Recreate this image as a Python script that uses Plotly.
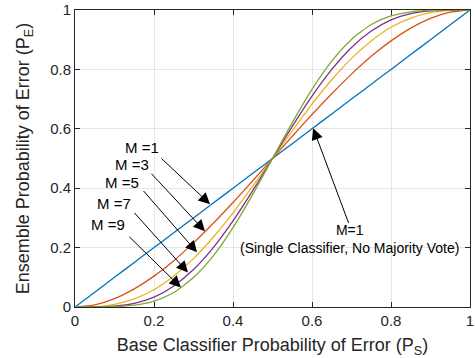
import plotly.graph_objects as go

# Base classifier probability of error (x)
ps = [0.0, 0.05, 0.1, 0.15, 0.2, 0.25, 0.3, 0.35, 0.4, 0.45, 0.5,
      0.55, 0.6, 0.65, 0.7, 0.75, 0.8, 0.85, 0.9, 0.95, 1.0]

pe_m1 = [0.0, 0.05, 0.1, 0.15, 0.2, 0.25, 0.3, 0.35, 0.4, 0.45, 0.5,
         0.55, 0.6, 0.65, 0.7, 0.75, 0.8, 0.85, 0.9, 0.95, 1.0]
pe_m3 = [0.0, 0.007, 0.028, 0.061, 0.104, 0.156, 0.216, 0.282, 0.352, 0.425, 0.5,
         0.575, 0.648, 0.718, 0.784, 0.844, 0.896, 0.939, 0.972, 0.993, 1.0]
pe_m5 = [0.0, 0.001, 0.009, 0.027, 0.058, 0.104, 0.163, 0.235, 0.317, 0.407, 0.5,
         0.593, 0.683, 0.765, 0.837, 0.896, 0.942, 0.973, 0.991, 0.999, 1.0]
pe_m7 = [0.0, 0.0002, 0.003, 0.012, 0.033, 0.071, 0.126, 0.200, 0.290, 0.392, 0.5,
         0.608, 0.710, 0.800, 0.874, 0.929, 0.967, 0.988, 0.997, 0.9998, 1.0]
pe_m9 = [0.0, 0.00003, 0.001, 0.006, 0.020, 0.049, 0.099, 0.172, 0.267, 0.379, 0.5,
         0.621, 0.733, 0.828, 0.901, 0.951, 0.980, 0.994, 0.999, 0.99997, 1.0]

series = [pe_m1, pe_m3, pe_m5, pe_m7, pe_m9]
names = ["M=1", "M=3", "M=5", "M=7", "M=9"]
colors = ["#0072BD", "#D95319", "#EDB120", "#7E2F8E", "#77AC30"]

tick_vals = [0, 0.2, 0.4, 0.6, 0.8, 1]
tick_text = ["0", "0.2", "0.4", "0.6", "0.8", "1"]

# annotation labels
left_labels = ["M =1", "M =3", "M =5", "M =7", "M =9"]
left_text_xy = [(0.170, 0.538), (0.144, 0.480), (0.119, 0.418), (0.098, 0.348), (0.083, 0.279)]
left_tail = [(0.215, 0.505), (0.190, 0.454), (0.170, 0.396), (0.147, 0.322), (0.134, 0.241)]
left_head = [(0.342, 0.346), (0.329, 0.255), (0.309, 0.184), (0.286, 0.116), (0.268, 0.066)]

right_label = "M=1<br>(Single Classifier, No Majority Vote)"
right_text_xy = (0.696, 0.228)
right_tail = (0.694, 0.278)
right_head = (0.603, 0.602)

FONT = "Liberation Sans, Arial, Helvetica, sans-serif"

fig = go.Figure()
for y, n, c in zip(series, names, colors):
    fig.add_trace(go.Scatter(x=ps, y=y, mode="lines", name=n,
                             line=dict(color=c, width=1.3, shape="spline", smoothing=0.6),
                             showlegend=False))

annotations = []
for t, (tx, ty), (ax_, ay_), (hx, hy) in zip(left_labels, left_text_xy, left_tail, left_head):
    annotations.append(dict(x=tx, y=ty, xref="x", yref="y", text=t, showarrow=False,
                            font=dict(size=15, color="#000000", family=FONT)))
    annotations.append(dict(x=hx, y=hy, ax=ax_, ay=ay_, xref="x", yref="y", axref="x", ayref="y",
                            text="", showarrow=True, arrowhead=2, arrowsize=2.3, arrowwidth=1,
                            arrowcolor="#000000", standoff=0, startstandoff=0))

annotations.append(dict(x=right_text_xy[0], y=right_text_xy[1], xref="x", yref="y",
                        text=right_label, showarrow=False,
                        font=dict(size=14, color="#000000", family=FONT)))
annotations.append(dict(x=right_head[0], y=right_head[1], ax=right_tail[0], ay=right_tail[1],
                        xref="x", yref="y", axref="x", ayref="y",
                        text="", showarrow=True, arrowhead=2, arrowsize=2.3, arrowwidth=1,
                        arrowcolor="#000000", standoff=0, startstandoff=0))

axis_common = dict(range=[0, 1], tickvals=tick_vals, ticktext=tick_text,
                   showline=True, linecolor="#262626", linewidth=1, mirror="ticks",
                   ticks="inside", ticklen=5, tickcolor="#262626",
                   showgrid=True, gridcolor="#e6e6e6", gridwidth=1, zeroline=False,
                   automargin=False,
                   tickfont=dict(size=15, color="#262626", family=FONT))

fig.update_layout(
    width=475, height=358,
    margin=dict(l=75, r=5, t=10, b=51),
    paper_bgcolor="white", plot_bgcolor="white",
    font=dict(family=FONT, color="#262626"),
    annotations=annotations,
    xaxis=dict(**axis_common,
               title=dict(text="Base Classifier Probability of Error (P<sub>S</sub>)",
                          font=dict(size=18, color="#262626", family=FONT))),
    yaxis=dict(**axis_common,
               title=dict(text="Ensemble Probability of Error (P<sub>E</sub>)",
                          font=dict(size=18, color="#262626", family=FONT))),
)

fig.write_html("out.html",
               config={"displayModeBar": False},
               post_script="document.body.style.margin='0';document.body.style.overflow='hidden';")
